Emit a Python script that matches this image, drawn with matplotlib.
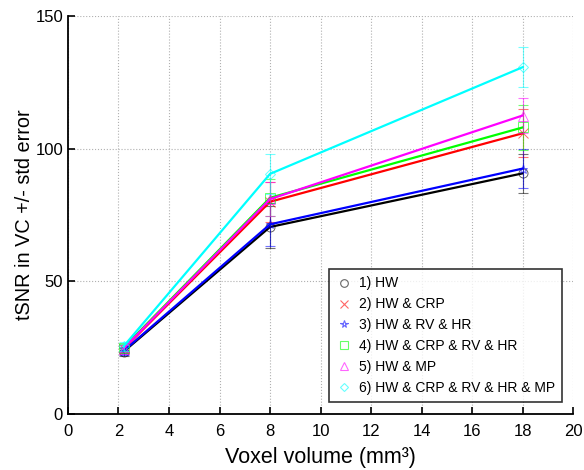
import numpy as np
import matplotlib.pyplot as plt
from matplotlib.lines import Line2D

plt.rcParams['font.family'] = ['Liberation Sans', 'DejaVu Sans']

voxel_volume = [2.2, 8, 18]
labels = ['1) HW', '2) HW & CRP', '3) HW & RV & HR', '4) HW & CRP & RV & HR',
          '5) HW & MP', '6) HW & CRP & RV & HR & MP']
tsnr = [
    [23.5, 70.5, 90.7],
    [24.5, 80.0, 105.8],
    [23.8, 71.5, 92.5],
    [25.0, 81.5, 108.0],
    [24.7, 81.0, 112.5],
    [25.5, 90.5, 130.7],
]
std_err = [
    [1.5, 8.0, 7.4],
    [1.5, 7.5, 9.0],
    [1.5, 8.0, 7.2],
    [1.5, 7.0, 8.5],
    [1.5, 6.5, 6.5],
    [1.8, 7.5, 7.5],
]
colors = ['black', 'red', 'blue', '#00ff00', 'magenta', 'cyan']
markers = ['o', 'x', '*', 's', '^', 'D']

fig = plt.figure(figsize=(5.84, 4.70), dpi=100)
ax = fig.add_axes([0.1164, 0.119, 0.865, 0.847])

handles = []
for y, e, c, m, lab in zip(tsnr, std_err, colors, markers, labels):
    ax.errorbar(voxel_volume, y, yerr=e, fmt='none', ecolor=c, elinewidth=0.8,
                capsize=3.6, capthick=0.8, alpha=0.55)
    ax.plot(voxel_volume, y, '-', color=c, lw=1.6)
    ms = 5 if m == 'D' else 6.5
    ax.plot(voxel_volume, y, m, color=c, mfc='none', ms=ms, mew=0.7, alpha=0.6)
    handles.append(Line2D([], [], ls='none', marker=m, color=c, mfc='none',
                          ms=ms - 1, mew=0.8, alpha=0.6, label=lab))

ax.set_xlim(0, 20)
ax.set_ylim(0, 150)
ax.set_xticks(np.arange(0, 21, 2))
ax.set_yticks([0, 50, 100, 150])
ax.grid(True, ls=':', color='#b0b0b0', lw=0.8)
ax.spines['top'].set_visible(False)
ax.spines['right'].set_visible(False)
ax.spines['left'].set_linewidth(1.3)
ax.spines['bottom'].set_linewidth(1.3)
ax.tick_params(direction='in', length=5, width=1.2, labelsize=12)
ax.tick_params(axis='x', pad=7)

ax.set_xlabel('Voxel volume (mm³)', fontsize=15.5, labelpad=6)
ax.set_ylabel('tSNR in VC +/- std error', fontsize=14.3, labelpad=1)

leg = ax.legend(handles=handles, loc='lower right', bbox_to_anchor=(0.992, 0.0126),
                fontsize=10, frameon=True, fancybox=False, handlelength=1.2,
                handletextpad=0.5, labelspacing=0.5, borderpad=0.5)
leg.get_frame().set_edgecolor('black')
leg.get_frame().set_linewidth(1.2)

fig.savefig('out.png', dpi=100)
